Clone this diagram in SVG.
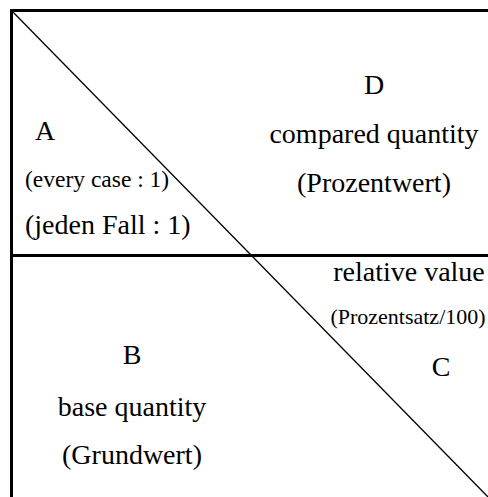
<svg xmlns="http://www.w3.org/2000/svg" width="488" height="497" viewBox="0 0 488 497">
<style>
.t{font-family:"Liberation Serif","Times New Roman",serif;fill:#000}
.big{font-size:28px}
.sm{font-size:23.5px}
.xs{font-size:22px}
.m{text-anchor:middle}
.frame{stroke:#000;stroke-width:3;fill:none}
.diag{stroke:#000;stroke-width:1.3;fill:none}
</style>
<rect width="488" height="497" fill="#fff"/>
<g id="connectors">
<line class="frame" x1="10" y1="10.5" x2="488" y2="10.5"/>
<line class="frame" x1="11.5" y1="9" x2="11.5" y2="497"/>
<line class="frame" x1="10" y1="255.5" x2="488" y2="255.5"/>
<line class="diag" x1="11" y1="10" x2="488" y2="497"/>
</g>
<g id="A">
<text class="t big" x="35" y="140">A</text>
<text class="t sm" x="25" y="187">(every case : 1)</text>
<text class="t big" x="25" y="234">(jeden Fall : 1)</text>
</g>
<g id="D">
<text class="t big m" x="374" y="94">D</text>
<text class="t big m" x="374" y="143">compared quantity</text>
<text class="t big m" x="374" y="192">(Prozentwert)</text>
</g>
<g id="C">
<text class="t big m" x="409" y="281">relative value</text>
<text class="t xs m" x="408" y="324">(Prozentsatz/100)</text>
<text class="t big m" x="441" y="376">C</text>
</g>
<g id="B">
<text class="t big m" x="132" y="364">B</text>
<text class="t big m" x="132" y="416">base quantity</text>
<text class="t big m" x="132" y="464">(Grundwert)</text>
</g>
</svg>
